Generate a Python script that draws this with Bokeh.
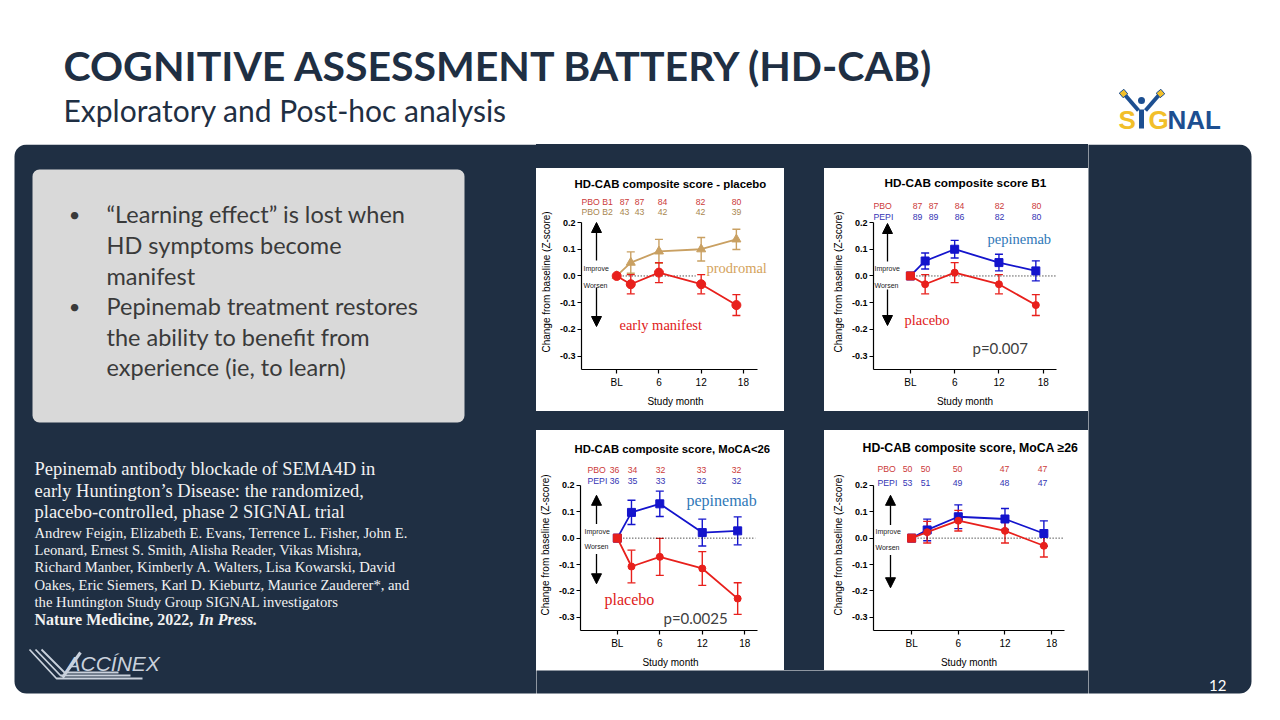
from bokeh.plotting import figure
from bokeh.models import (Range1d, FixedTicker, NumeralTickFormatter, Whisker, TeeHead,
                          ColumnDataSource, Label, LabelSet, Arrow, NormalHead, Spacer)
from bokeh.layouts import row, column
from bokeh.embed import file_html
from bokeh.resources import INLINE
from bokeh.core.properties import value

# ---------------- data ----------------
months = [0, 2, 6, 12, 17]
tick_months = [0, 6, 12, 18]
tick_labels = ["BL", "6", "12", "18"]
y_ticks = [-0.3, -0.2, -0.1, 0.0, 0.1, 0.2]

pbo_b1_mean = [0.0, -0.031, 0.0125, -0.031, -0.109]
pbo_b1_se = [0.0, 0.036, 0.0375, 0.036, 0.039]
pbo_b2_mean = [0.0, 0.050, 0.092, 0.100, 0.137]
pbo_b2_se = [0.0, 0.040, 0.045, 0.044, 0.038]
pepi_b1_mean = [0.0, 0.056, 0.100, 0.050, 0.019]
pepi_b1_se = [0.0, 0.030, 0.033, 0.031, 0.0375]
pbo_low_mean = [0.0, -0.1075, -0.071, -0.115, -0.229]
pbo_low_se = [0.0, 0.062, 0.070, 0.064, 0.060]
pepi_low_mean = [0.0, 0.0975, 0.130, 0.021, 0.0275]
pepi_low_se = [0.0, 0.046, 0.048, 0.051, 0.053]
pbo_high_mean = [0.0, 0.0225, 0.066, 0.0275, -0.029]
pbo_high_se = [0.0, 0.041, 0.039, 0.046, 0.0425]
pepi_high_mean = [0.0, 0.031, 0.081, 0.0725, 0.0175]
pepi_high_se = [0.0, 0.041, 0.045, 0.0395, 0.048]

n_pbo_b1 = [87, 87, 84, 82, 80]
n_pbo_b2 = [43, 43, 42, 42, 39]
n_pepi_b1 = [89, 89, 86, 82, 80]
n_pbo_low = [36, 34, 32, 33, 32]
n_pepi_low = [36, 35, 33, 32, 32]
n_pbo_high = [50, 50, 50, 47, 47]
n_pepi_high = [53, 51, 49, 48, 47]

bullets = [["\u201cLearning effect\u201d is lost when", "HD symptoms become", "manifest"],
           ["Pepinemab treatment restores", "the ability to benefit from", "experience (ie, to learn)"]]
citation_title = ["Pepinemab antibody blockade of SEMA4D in",
                  "early Huntington\u2019s Disease: the randomized,",
                  "placebo-controlled, phase 2 SIGNAL trial"]
citation_authors = ["Andrew Feigin, Elizabeth E. Evans, Terrence L. Fisher, John E.",
                    "Leonard, Ernest S. Smith, Alisha Reader, Vikas Mishra,",
                    "Richard Manber, Kimberly A. Walters, Lisa Kowarski, David",
                    "Oakes, Eric Siemers, Karl D. Kieburtz, Maurice Zauderer*, and",
                    "the Huntington Study Group SIGNAL investigators"]

# ---------------- styles ----------------
NAVY = "#1f2f43"
RED = "#e8201c"
BLUE = "#1414cc"
TAN = "#c9a062"
RED_N = "#cc3a3a"
BLUE_N = "#3434b4"
TAN_N = "#a9874f"
STEEL = "#2f78b8"
SANS = "Liberation Sans"
SERIF = "Liberation Serif"
SLIDE = "Lato"


def blank(w, h, xr, yr, fill="white"):
    p = figure(width=w, height=h, x_range=Range1d(*xr), y_range=Range1d(*yr),
               output_backend="svg", toolbar_location=None,
               x_axis_location=None, y_axis_location=None, min_border=0)
    p.grid.visible = False
    p.outline_line_color = None
    p.background_fill_color = fill
    p.border_fill_color = fill
    return p


def navy_gap(w, h):
    return Spacer(width=w, height=h, sizing_mode="fixed", styles={"background-color": NAVY})


def chart(cfg):
    bx, by, bw, bh = cfg["box"]
    al, ar, at, ab = cfg["axis"]          # axis lines in slide pixels
    fr, ft = cfg["frame_right"], cfg["frame_top"]
    xa0, xa1 = cfg["xr"]                  # months at the axis ends
    ya0, ya1 = -0.35, 0.2
    kx = (xa1 - xa0) / (ar - al)
    ky = (ya1 - ya0) / (ab - at)
    x_end = xa1 + (fr - ar) * kx
    y_end = ya1 + (at - ft) * ky
    p = figure(width=bw, height=bh, x_range=Range1d(xa0, x_end), y_range=Range1d(ya0, y_end),
               output_backend="svg", toolbar_location=None,
               min_border_left=al - bx, min_border_right=bx + bw - fr, min_border_top=ft - by,
               min_border_bottom=by + bh - ab)
    X = lambda px: xa0 + (px - al) * kx
    Y = lambda py: ya1 - (py - at) * ky

    p.grid.visible = False
    p.outline_line_color = None
    p.background_fill_color = "white"
    p.border_fill_color = "white"
    # title
    p.title.text = cfg["title"]
    p.title.align = "left"
    p.title.offset = cfg["title_left"] - al
    p.title.standoff = 10
    p.title.text_font = SANS
    p.title.text_font_style = "bold"
    p.title.text_font_size = cfg["title_size"]
    p.title.text_color = "black"

    for ax in p.axis:
        ax.axis_line_color = "black"
        ax.axis_line_width = 1.2
        ax.major_tick_line_color = "black"
        ax.major_tick_line_width = 1.2
        ax.major_tick_in = 0
        ax.major_tick_out = 4
        ax.minor_tick_line_color = None
        ax.major_label_text_font = SANS
        ax.major_label_text_color = "black"
        ax.axis_label_text_font = SANS
        ax.axis_label_text_font_style = "normal"
        ax.axis_label_text_font_size = "10px"
        ax.axis_label_text_color = "black"
    p.xaxis.bounds = (xa0, xa1)
    p.xaxis.ticker = FixedTicker(ticks=tick_months)
    p.xaxis.major_label_overrides = {m: l for m, l in zip(tick_months, tick_labels)}
    p.xaxis.major_label_text_font_size = "10px"
    p.xaxis.major_label_standoff = 3
    p.xaxis.axis_label = "Study month"
    p.xaxis.axis_label_standoff = 5
    p.yaxis.bounds = (ya0, ya1)
    p.yaxis.ticker = FixedTicker(ticks=y_ticks)
    p.yaxis.formatter = NumeralTickFormatter(format="0.0")
    p.yaxis.major_label_text_font_size = "9px"
    p.yaxis.major_label_text_font_style = "bold"
    p.yaxis.major_label_standoff = 2
    p.yaxis.axis_label = "Change from baseline (Z-score)"
    p.yaxis.axis_label_standoff = 5

    # n rows
    for lab, col, counts, ry in cfg["rows"]:
        p.add_layout(Label(x=X(cfg["row_label_x"]), y=Y(ry), text=lab, text_align="left",
                           text_baseline="middle", text_font=SANS, text_font_size="8.7px",
                           text_color=col))
        src = ColumnDataSource(dict(x=[X(c) for c in cfg["count_x"]], y=[Y(ry)] * len(counts),
                                    t=[str(n) for n in counts]))
        p.add_layout(LabelSet(x="x", y="y", text="t", source=src, text_align="center",
                              text_baseline="middle", text_font=value(SANS),
                              text_font_size=value("8.7px"), text_color=value(col)))
    # zero line
    p.segment(x0=[months[0]], y0=[0], x1=[X(cfg["zero_end"])], y1=[0], line_color="black",
              line_width=1, line_dash="1 2")
    # improve / worsen
    for txt, (lx, ly) in (("Improve", cfg["improve"]), ("Worsen", cfg["worsen"])):
        p.add_layout(Label(x=X(lx), y=Y(ly), text=txt, text_align="left", text_baseline="middle",
                           text_font=SANS, text_font_size="7px", text_color="#222222"))
    axx = cfg["arrow_x"]
    for tail, tip in (cfg["up"], cfg["down"]):
        p.add_layout(Arrow(end=NormalHead(size=10, fill_color="black", line_color="black",
                                          line_width=1),
                           x_start=X(axx), y_start=Y(tail), x_end=X(axx), y_end=Y(tip),
                           line_color="black", line_width=1.3))
    # series
    for s in cfg["series"]:
        m, se, c = s["mean"], s["se"], s["color"]
        src = ColumnDataSource(dict(x=months, y=m))
        esrc = ColumnDataSource(dict(x=months[1:], lo=[a - b for a, b in zip(m[1:], se[1:])],
                                     hi=[a + b for a, b in zip(m[1:], se[1:])]))
        p.line("x", "y", source=src, line_color=c, line_width=1.8)
        p.add_layout(Whisker(base="x", lower="lo", upper="hi", source=esrc, line_color=c,
                             line_width=1.4,
                             upper_head=TeeHead(size=8, line_color=c, line_width=1.4),
                             lower_head=TeeHead(size=8, line_color=c, line_width=1.4)))
        p.scatter("x", "y", source=src, marker=s["marker"], size=s["size"], fill_color=c,
                  line_color=c)
        if s.get("bl_square"):
            p.scatter(months[:1], m[:1], marker="square", size=8, fill_color=c, line_color=c)
    # notes
    for txt, nx, ny, col, font, size in cfg["notes"]:
        p.add_layout(Label(x=X(nx), y=Y(ny), text=txt, text_align="left", text_baseline="middle",
                           text_font=font, text_font_size=size, text_color=col))
    return p


cfg1 = dict(box=(544, 176, 248, 243), axis=(589, 765, 230, 377), xr=(-5, 20),
            frame_right=777, frame_top=202,
            title="HD-CAB composite score - placebo", title_left=582, title_size="11.4px",
            rows=[("PBO B1", RED_N, n_pbo_b1, 209), ("PBO B2", TAN_N, n_pbo_b2, 219)],
            row_label_x=589, count_x=[632, 647, 670, 708, 744],
            improve=(591, 276), worsen=(591, 293), arrow_x=604, up=(268, 230), down=(295, 334),
            zero_end=703,
            series=[dict(mean=pbo_b2_mean, se=pbo_b2_se, color=TAN, marker="triangle", size=9),
                    dict(mean=pbo_b1_mean, se=pbo_b1_se, color=RED, marker="circle", size=9)],
            notes=[("prodromal", 714, 275, "#d4a35c", SERIF, "14.5px"),
                   ("early manifest", 627, 332, "#e02020", SERIF, "14.5px")])

cfg2 = dict(box=(832, 176, 264, 243), axis=(881, 1064, 230, 377), xr=(-5, 19.8),
            frame_right=1064, frame_top=202,
            title="HD-CAB composite score B1", title_left=892, title_size="11.8px",
            rows=[("PBO", RED_N, n_pbo_b1, 213), ("PEPI", BLUE_N, n_pepi_b1, 224)],
            row_label_x=881, count_x=[925, 941, 967, 1007, 1044],
            improve=(882, 276), worsen=(882, 293), arrow_x=895, up=(269, 231), down=(297, 333),
            zero_end=1064,
            series=[dict(mean=pepi_b1_mean, se=pepi_b1_se, color=BLUE, marker="square", size=8),
                    dict(mean=pbo_b1_mean, se=pbo_b1_se, color=RED, marker="circle", size=7,
                         bl_square=True)],
            notes=[("pepinemab", 995, 246, STEEL, SERIF, "14.5px"),
                   ("placebo", 912, 327, "#e02020", SERIF, "14.5px"),
                   ("p=0.007", 980, 355, "#404040", SLIDE, "15px")])

cfg3 = dict(box=(544, 438, 248, 240), axis=(588, 765, 493, 639), xr=(-5.2, 19.8),
            frame_right=768, frame_top=467,
            title="HD-CAB composite score, MoCA<26", title_left=582, title_size="11.3px",
            rows=[("PBO", RED_N, n_pbo_low, 478), ("PEPI", BLUE_N, n_pepi_low, 489)],
            row_label_x=595, count_x=[622, 640, 668, 709, 744],
            improve=(592, 539), worsen=(592, 555), arrow_x=604, up=(532, 503), down=(562, 592),
            zero_end=763,
            series=[dict(mean=pepi_low_mean, se=pepi_low_se, color=BLUE, marker="square", size=8),
                    dict(mean=pbo_low_mean, se=pbo_low_se, color=RED, marker="circle", size=7,
                         bl_square=True)],
            notes=[("pepinemab", 694, 508, STEEL, SERIF, "16px"),
                   ("placebo", 612, 608, "#e02020", SERIF, "16px"),
                   ("p=0.0025", 671, 626, "#404040", SLIDE, "15px")])

cfg4 = dict(box=(832, 438, 264, 240), axis=(881, 1072, 493, 639), xr=(-4.9, 19.65),
            frame_right=1072, frame_top=467,
            title="HD-CAB composite score, MoCA \u226526", title_left=870, title_size="12.3px",
            rows=[("PBO", RED_N, n_pbo_high, 477), ("PEPI", BLUE_N, n_pepi_high, 491)],
            row_label_x=885, count_x=[915, 933, 965, 1012, 1050],
            improve=(883, 539), worsen=(883, 556), arrow_x=898, up=(533, 503), down=(563, 596),
            zero_end=1072,
            series=[dict(mean=pepi_high_mean, se=pepi_high_se, color=BLUE, marker="square", size=8),
                    dict(mean=pbo_high_mean, se=pbo_high_se, color=RED, marker="circle", size=7,
                         bl_square=True)],
            notes=[])

c1, c2, c3, c4 = chart(cfg1), chart(cfg2), chart(cfg3), chart(cfg4)

# ---------------- header ----------------
H = blank(1264, 144, (8, 1272), (152, 8))
H.text(x=[71], y=[73], text=["COGNITIVE ASSESSMENT BATTERY (HD-CAB)"], text_font=value(SLIDE),
       text_font_style="bold", text_font_size="41px", text_color=NAVY,
       text_baseline="middle")
H.text(x=[71], y=[117], text=["Exploratory and Post-hoc analysis"], text_font=value(SLIDE),
       text_font_size="30px", text_color=NAVY, text_baseline="middle")
# SIGNAL logo (approximation)
H.segment(x0=[1133, 1166], y0=[103, 103], x1=[1146, 1153], y1=[118, 118], line_color="#1d4f91",
          line_width=4)
H.segment(x0=[1149], y0=[117], x1=[1149], y1=[136], line_color="#1d4f91", line_width=5)
H.scatter(x=[1149], y=[108], size=7, marker="circle", fill_color="#1d4f91", line_color=None)
H.scatter(x=[1131, 1168], y=[101, 101], size=6, marker="square", angle=0.7,
          fill_color="#f2bf2a", line_color="#1d4f91")
H.text(x=[1126, 1156], y=[127, 127], text=["S", "G"], text_font=value(SANS), text_font_style="bold",
       text_font_size="26px", text_color="#f2bf2a", text_baseline="middle")
H.text(x=[1175], y=[127], text=["NAL"], text_font=value(SANS), text_font_style="bold",
       text_font_size="26px", text_color="#1d4f91", text_baseline="middle")

# ---------------- left panel ----------------
L = blank(536, 560, (8, 544), (712, 152))
L.quad(left=[22], right=[700], top=[152], bottom=[701], fill_color=NAVY, line_color=None,
       border_radius=12)
L.quad(left=[40], right=[472], top=[177], bottom=[430], fill_color="#d9d9d9", line_color=None,
       border_radius=7)
L.text(x=[82, 82], y=[221, 313], text=["\u2022", "\u2022"], text_font=value(SLIDE),
       text_font_size="20px", text_color="#3a3a3a", text_align="center", text_baseline="middle")
L.text(x=[114] * 6, y=[221, 252, 283, 313, 344, 374], text=bullets[0] + bullets[1],
       text_font=value(SLIDE), text_font_size="23.5px", text_color="#3a3a3a",
       text_baseline="middle")
L.text(x=[42] * 3, y=[476, 498, 519], text=citation_title, text_font=value(SERIF),
       text_font_size="18.5px", text_color="#f2f2f2", text_baseline="middle")
L.text(x=[42] * 5, y=[540, 557, 574, 592, 609], text=citation_authors, text_font=value(SERIF),
       text_font_size="14.7px", text_color="#f2f2f2", text_baseline="middle")
L.text(x=[42], y=[627], text=["Nature Medicine, 2022, "], text_font=value(SERIF),
       text_font_style="bold", text_font_size="16px", text_color="#f2f2f2",
       text_baseline="middle")
L.text(x=[206], y=[627], text=["In Press."], text_font=value(SERIF),
       text_font_style="bold italic", text_font_size="16px", text_color="#f2f2f2",
       text_baseline="middle")
# Vaccinex logo (approximation)
LOGO = "#c9d1dc"
for i in range(3):
    L.line(x=[37 + 6 * i, 64 + 4 * i, 150 - 12 * i], y=[657, 686 - 3 * i, 686 - 3 * i],
           line_color=LOGO, line_width=1.8)
L.segment(x0=[70], y0=[685], x1=[88], y1=[660], line_color=LOGO, line_width=3)
L.text(x=[74], y=[671], text=["ACC\u00cdNEX"], text_font=value(SANS), text_font_style="italic",
       text_font_size="21px", text_color=LOGO, text_baseline="middle")

# ---------------- right strip ----------------
R = blank(176, 560, (1096, 1272), (712, 152))
R.quad(left=[1000], right=[1259], top=[152], bottom=[701], fill_color=NAVY, line_color=None,
       border_radius=12)
R.text(x=[1234], y=[693], text=["12"], text_font=value(SLIDE), text_font_size="15px",
       text_color="white", text_align="right", text_baseline="middle")

# ---------------- gaps ----------------
g_bot = blank(552, 34, (544, 1096), (712, 678))
g_bot.quad(left=[530], right=[1110], top=[670], bottom=[701], fill_color=NAVY, line_color=None)

middle = column(navy_gap(552, 24), row(c1, navy_gap(40, 243), c2), navy_gap(552, 19),
                row(c3, navy_gap(40, 240), c4), g_bot)
layout = column(H, row(L, middle, R))

open("out.html", "w").write(file_html(layout, INLINE))
